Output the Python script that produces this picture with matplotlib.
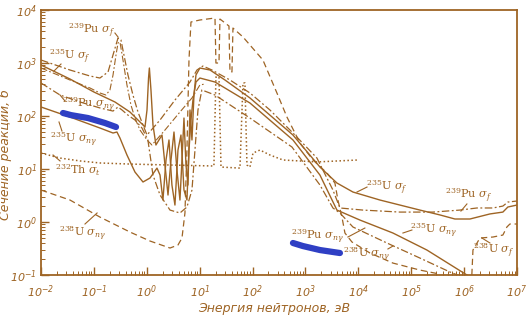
import matplotlib
matplotlib.use("Agg")
import matplotlib.pyplot as plt
import numpy as np

# --- data (E in eV, sigma in barns) ---
pu239_f_E = [0.0100, 0.0353, 0.0843, 0.130, 0.185, 0.230, 0.286, 0.325, 0.370, 0.441, 0.548,
             0.682, 0.848, 1.01, 1.78, 3.41, 6.56, 8.89, 11.5, 17.1, 37.4, 89.3, 213, 581,
             1650, 3310, 4490, 12200, 61100, 257000, 834000, 1.75e6, 3.51e6, 5.41e6, 6.73e6, 1.0e7]
pu239_f_s = [1140, 738, 569, 521, 677, 1420, 2970, 2720, 1420, 594, 249,
             119, 67.7, 43.8, 84.1, 200, 438, 738, 877, 738, 478, 272, 130, 47.8,
             16.1, 4.01, 1.84, 1.68, 1.54, 1.54, 1.68, 1.84, 1.84, 2.00, 2.38, 2.49]

# second dash-dot branch of 239Pu near the 0.3 eV resonance
pu239_b_E = [0.0100, 0.0353, 0.0843, 0.130, 0.169, 0.201, 0.230, 0.262, 0.286, 0.311, 0.355,
             0.422, 0.502, 0.598, 0.744, 1.01, 1.25, 2.21, 4.24, 7.15, 10.1, 12.6]
pu239_b_s = [805, 478, 338, 272, 249, 310, 594, 1420, 2390, 2490, 1140,
             385, 161, 91.6, 54.4, 35.3, 28.4, 54.4, 119, 219, 385, 402]

u235_f_E = [0.0100, 0.0353, 0.100, 0.250, 0.481, 0.744, 0.925, 1.01, 1.08, 1.12, 1.20, 1.31,
            1.49, 1.70, 1.94, 2.21, 2.52, 2.87, 3.27, 3.72, 4.24, 4.63, 5.05, 5.51, 6.01,
            6.56, 7.15, 7.80, 8.51, 10.1, 15.7, 30.1, 89.3, 213, 581, 1880, 3940, 7910,
            25600, 146000, 349000, 670000, 1.29e6, 3.08e6, 5.41e6, 6.73e6, 1.0e7]
u235_f_s = [917, 499, 284, 184, 119, 77.1, 62.0, 130, 521, 805, 310, 67.7,
            28.4, 35.3, 43.8, 11.9, 3.23, 14.8, 49.9, 9.57, 2.60, 14.8, 91.6, 11.9, 4.99,
            130, 35.3, 249, 594, 805, 738, 478, 219, 104, 43.8, 10.9, 5.44, 3.68,
            2.60, 1.68, 1.36, 1.14, 1.14, 1.42, 1.54, 1.92, 2.09]

u235_ng_E = [0.0100, 0.0353, 0.130, 0.230, 0.273, 0.311, 0.422, 0.598, 0.848, 1.15, 1.56,
             1.78, 2.02, 2.31, 2.63, 2.99, 3.41, 3.89, 4.43, 5.05, 5.75, 6.28, 6.85, 7.47,
             8.51, 10.1, 19.5, 89.3, 581, 1880, 3940, 10700, 45100, 198000, 1.13e6]
u235_ng_s = [148, 95.7, 59.4, 47.8, 49.9, 38.5, 18.4, 8.77, 5.69, 6.76, 10.4,
             7.70, 2.60, 14.8, 35.3, 4.99, 2.09, 22.8, 43.8, 4.01, 2.60, 22.8, 84.1, 200,
             438, 521, 438, 176, 35.3, 7.70, 1.68, 1.09, 0.620, 0.296, 0.100]

pu239_ng_E = [0.0100, 0.0229, 0.0546, 0.130, 0.230, 0.286, 0.340, 0.441, 0.598, 0.811, 1.05,
              1.31, 1.78, 2.75, 4.24, 5.75, 7.15, 8.15, 9.29, 11.0, 19.5, 89.3, 556, 1880,
              3310, 4490, 7910, 34700, 146000, 540000, 834000]
pu239_ng_s = [420, 249, 184, 142, 124, 148, 130, 104, 84.1, 59.4, 35.3,
              7.70, 3.23, 1.68, 1.48, 1.92, 4.01, 22.8, 130, 310, 249, 91.6, 26.0, 4.99,
              1.84, 1.48, 0.805, 0.402, 0.209, 0.114, 0.0958]

u238_ng_E = [0.0100, 0.0353, 0.130, 0.481, 1.15, 2.75, 3.89, 4.63, 5.27, 5.75, 6.28, 6.85,
             10.1, 19.5, 20.3, 23.2, 24.2, 35.8, 37.4, 40.8, 42.6, 65.9, 157, 289, 447,
             787, 1390, 2550, 3610, 4110, 4900, 5580, 7570, 16600, 45100, 146000, 349000]
u238_ng_s = [4.01, 2.60, 1.24, 0.647, 0.438, 0.323, 0.368, 0.499, 1.48, 22.8, 1140, 5940,
             6480, 7070, 1000, 1000, 6760, 4990, 677, 677, 4570, 3100, 1140, 272, 95.7,
             31.0, 14.8, 8.41, 5.44, 2.60, 1.24, 0.620, 0.420, 0.260, 0.168, 0.124, 0.104]

u238_f_E = [1.40e6, 1.47e6, 1.99e6, 3.51e6, 5.41e6, 6.44e6, 7.34e6, 1.0e7]
u238_f_s = [0.100, 0.296, 0.499, 0.521, 0.568, 0.805, 0.917, 0.917]

th232_t_E = [0.0100, 0.0229, 0.0546, 0.130, 0.481, 2.75, 18.6, 20.3, 23.2, 25.3, 57.8,
             65.9, 71.8, 78.4, 89.3, 102, 138, 213, 376, 1650, 9840]
th232_t_s = [20.0, 16.1, 14.2, 13.0, 12.4, 11.9, 11.4, 545, 545, 10.9, 10.4,
             420, 420, 11.9, 10.9, 20.0, 22.8, 18.4, 14.8, 13.6, 14.8]

# blue marker strokes drawn over the scan
blue1_E = [0.0261, 0.0369, 0.0773, 0.162, 0.262]
blue1_s = [114, 104, 91.6, 73.8, 62.0]
blue2_E = [581, 897, 1880, 3310, 4490]
blue2_s = [0.402, 0.352, 0.296, 0.272, 0.260]

# curve labels: text, label point, leader start, leader end
labels = [
    (r"$^{239}\mathrm{Pu}\ \sigma_f$", (0.092, 4020), (0.250, 3680), (0.286, 3100)),
    (r"$^{235}\mathrm{U}\ \sigma_f$", (0.0353, 1300), (0.0239, 957), (0.0176, 706)),
    (r"$^{239}\mathrm{Pu}\ \sigma_{n\gamma}$", (0.0773, 161), (0.0229, 249), (0.0284, 192)),
    (r"$^{235}\mathrm{U}\ \sigma_{n\gamma}$", (0.042, 35.3), (0.0249, 52.1), (0.0219, 77.1)),
    (r"$^{232}\mathrm{Th}\ \sigma_t$", (0.050, 9.57), (0.0229, 14.2), (0.0169, 18.4)),
    (r"$^{238}\mathrm{U}\ \sigma_{n\gamma}$", (0.0622, 0.594), (0.0679, 0.917), (0.115, 1.48)),
    (r"$^{235}\mathrm{U}\ \sigma_f$", (34700, 4.38), (9420, 3.68), (14600, 4.57)),
    (r"$^{239}\mathrm{Pu}\ \sigma_f$", (1.23e6, 3.10), (1.13e6, 2.19), (871000, 1.61)),
    (r"$^{239}\mathrm{Pu}\ \sigma_{n\gamma}$", (1650, 0.521), (6350, 0.521), (13300, 0.770)),
    (r"$^{238}\mathrm{U}\ \sigma_{n\gamma}$", (14600, 0.238), (36300, 0.310), (45100, 0.352)),
    (r"$^{235}\mathrm{U}\ \sigma_{n\gamma}$", (269000, 0.676), (103000, 0.706), (69700, 0.620)),
    (r"$^{238}\mathrm{U}\ \sigma_f$", (3.66e6, 0.283), (3.08e6, 0.402), (2.17e6, 0.499)),
]

brown = "#9e6424"
plt.rcParams['mathtext.fontset'] = 'dejavuserif'
# italic sans for the tick labels (used through the 'custom' math family)
plt.rcParams['mathtext.rm'] = 'DejaVu Sans:italic'
plt.rcParams['mathtext.it'] = 'DejaVu Sans:italic'

fig = plt.figure(figsize=(5.29, 3.16), dpi=100)
ax = fig.add_axes([0.0775, 0.1297, 0.8998, 0.8386])

dashdot = (0, (6, 2, 1.5, 2))
dashed = (0, (5, 3))
dotted = (0, (1, 1.6))

ax.plot(pu239_f_E, pu239_f_s, color=brown, lw=0.9, linestyle=dashdot)
ax.plot(pu239_b_E, pu239_b_s, color=brown, lw=0.8, linestyle=dashdot)
ax.plot(u235_f_E, u235_f_s, color=brown, lw=1.0)
ax.plot(u235_ng_E, u235_ng_s, color=brown, lw=1.0)
ax.plot(pu239_ng_E, pu239_ng_s, color=brown, lw=0.9, linestyle=dashdot)
ax.plot(u238_ng_E, u238_ng_s, color=brown, lw=0.9, linestyle=dashed)
ax.plot(u238_f_E, u238_f_s, color=brown, lw=0.9, linestyle=dashed)
ax.plot(th232_t_E, th232_t_s, color=brown, lw=1.1, linestyle=dotted)

ax.plot(blue1_E, blue1_s, color="#2f3fc4", lw=4.5, solid_capstyle='round')
ax.plot(blue2_E, blue2_s, color="#2f3fc4", lw=4.5, solid_capstyle='round')

for txt, pos, p0, p1 in labels:
    ax.text(pos[0], pos[1], txt, color=brown, fontsize=8, ha='center', va='center',
            family='DejaVu Serif')
    ax.plot([p0[0], p1[0]], [p0[1], p1[1]], color=brown, lw=0.8)

ax.set_xscale('log')
ax.set_yscale('log')
ax.set_xlim(1e-2, 1e7)
ax.set_ylim(1e-1, 1e4)

xt = [10.0 ** k for k in range(-2, 8)]
yt = [10.0 ** k for k in range(-1, 5)]
ax.set_xticks(xt, labels=[r"$10^{%d}$" % k for k in range(-2, 8)])
ax.set_yticks(yt, labels=[r"$10^{%d}$" % k for k in range(-1, 5)])
for lbl in ax.get_xticklabels() + ax.get_yticklabels():
    lbl.set_math_fontfamily('custom')
ax.tick_params(which='both', direction='in', colors=brown, labelcolor=brown,
               top=False, right=False)
ax.tick_params(which='major', length=6, width=1.0, labelsize=8)
ax.tick_params(axis='x', which='major', pad=6)
ax.tick_params(axis='y', which='major', pad=3)
ax.tick_params(which='minor', length=3, width=0.7)
for s in ax.spines.values():
    s.set_color(brown)
    s.set_linewidth(1.3)

ax.set_xlabel("Энергия нейтронов, эВ", color=brown, fontsize=9, style='italic')
ax.set_ylabel("Сечение реакции, б", color=brown, fontsize=9, style='italic')
ax.xaxis.set_label_coords(0.49, -0.102)
ax.yaxis.set_label_coords(-0.061, 0.453)

fig.savefig("out.png", dpi=100)
